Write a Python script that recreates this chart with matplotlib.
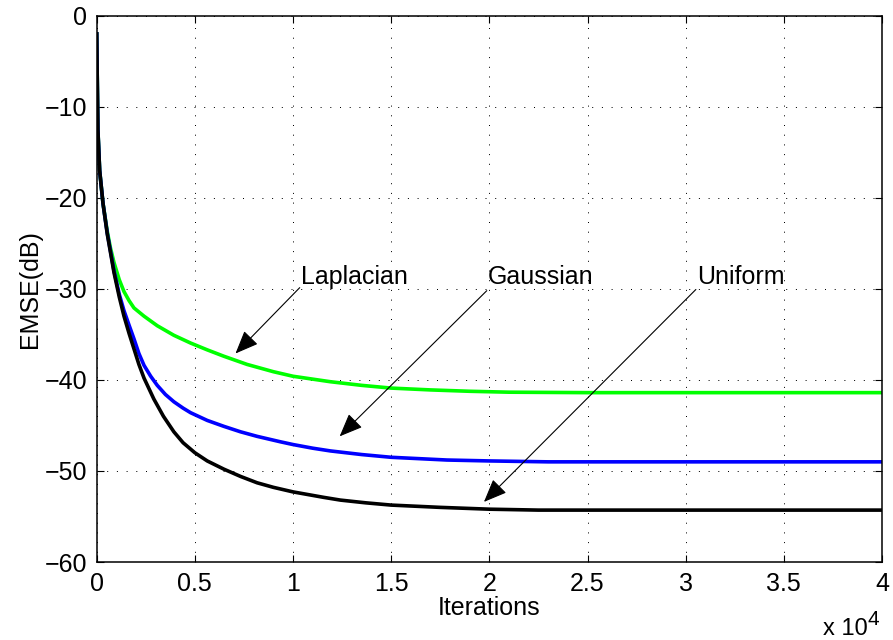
import matplotlib
matplotlib.use("Agg")
import matplotlib.pyplot as plt

plt.rcParams['font.family'] = ['Liberation Sans', 'DejaVu Sans']

# EMSE learning curves (dB) versus iteration, one per noise distribution
iters_laplacian = [0, 60, 150, 320, 540, 700, 880, 1150, 1390, 1650, 1900, 2410,
                   3085, 3930, 4780, 5630, 6475, 7660, 9000, 10000, 11900, 13500,
                   15000, 17000, 19000, 21000, 25000, 30000, 35000, 40000]
emse_laplacian = [-2.0, -12.5, -17.0, -20.6, -23.7, -25.5, -27.1, -29.0, -30.3,
                  -31.3, -32.1, -33.0, -34.05, -35.1, -35.95, -36.7, -37.4, -38.3,
                  -39.1, -39.6, -40.2, -40.6, -40.9, -41.1, -41.25, -41.35, -41.4,
                  -41.4, -41.4, -41.4]

iters_gaussian = [0, 60, 150, 320, 540, 880, 1150, 1390, 1650, 1900, 2150, 2410,
                  2750, 3085, 3500, 3930, 4400, 4780, 5630, 6475, 7325, 8170, 9360,
                  10000, 11000, 11900, 13500, 15000, 17840, 20000, 23000, 30000,
                  35000, 40000]
emse_gaussian = [-2.0, -12.5, -17.0, -20.6, -23.9, -28.0, -30.6, -32.4, -34.0, -35.5,
                 -37.1, -38.4, -39.6, -40.6, -41.6, -42.4, -43.1, -43.6, -44.45,
                 -45.1, -45.7, -46.2, -46.8, -47.1, -47.5, -47.8, -48.2, -48.5,
                 -48.8, -48.9, -49.0, -49.0, -49.0, -49.0]

iters_uniform = [0, 60, 150, 320, 540, 880, 1150, 1390, 1650, 1900, 2150, 2410,
                 2910, 3400, 3930, 4400, 5000, 5630, 6475, 7325, 8170, 9000, 10000,
                 11560, 12410, 13700, 15000, 17500, 20000, 22500, 30000, 35000,
                 40000]
emse_uniform = [-2.0, -12.5, -17.0, -20.6, -24.0, -28.2, -30.9, -33.0, -34.9, -36.6,
                -38.3, -39.8, -42.1, -44.0, -45.7, -46.9, -48.0, -48.9, -49.8,
                -50.6, -51.3, -51.8, -52.3, -52.9, -53.2, -53.5, -53.75, -54.0,
                -54.2, -54.3, -54.3, -54.3, -54.3]

x_ticks = [0, 5000, 10000, 15000, 20000, 25000, 30000, 35000, 40000]
x_tick_labels = ['0', '0.5', '1', '1.5', '2', '2.5', '3', '3.5', '4']
y_ticks = [-60, -50, -40, -30, -20, -10, 0]

# label text, arrow start (x, y) and arrow tip (x, y)
labels = [
    ('Laplacian', (10340, -29.87), (7070, -37.1)),
    ('Gaussian', (19870, -30.2), (12375, -46.2)),
    ('Uniform', (30519, -30.07), (19725, -53.4)),
]

FS = 18

fig = plt.figure(figsize=(8.93, 6.4), dpi=100)
ax = fig.add_axes([96.7 / 893, 78 / 640, (882 - 96.7) / 893, (562 - 15.7) / 640])

ax.plot(iters_laplacian, emse_laplacian, color=(0, 1, 0), lw=2.6)
ax.plot(iters_gaussian, emse_gaussian, color=(0, 0, 1), lw=2.6)
ax.plot(iters_uniform, emse_uniform, color='black', lw=2.6)

ax.set_xlim(0, 40000)
ax.set_ylim(-60, 0)
ax.set_xticks(x_ticks)
ax.set_xticklabels(x_tick_labels)
ax.set_yticks(y_ticks)
ax.grid(True, color='black', linestyle=(0, (1, 8.7)), linewidth=0.72)
ax.tick_params(direction='in', length=5, width=0.8, top=True, right=True,
               labelsize=FS, pad=7)
for sp in ax.spines.values():
    sp.set_linewidth(1.1)

ax.set_xlabel('Iterations', fontsize=FS, labelpad=0)
ax.set_ylabel('EMSE(dB)', fontsize=FS, labelpad=2)

for text, start, tip in labels:
    ax.annotate('', xy=tip, xytext=start,
                arrowprops=dict(arrowstyle='-|>,head_length=0.8,head_width=0.33',
                                color='black', lw=0.8, shrinkA=0, shrinkB=0,
                                mutation_scale=18))
    ax.text(start[0] + 60, -29.5, text, fontsize=FS, ha='left', va='baseline')

fig.text(823 / 893, 1 - 635 / 640, 'x 10', fontsize=17, ha='left', va='baseline')
fig.text(868 / 893, 1 - 625 / 640, '4', fontsize=15, ha='left', va='baseline')

fig.savefig('out.png', dpi=100)
